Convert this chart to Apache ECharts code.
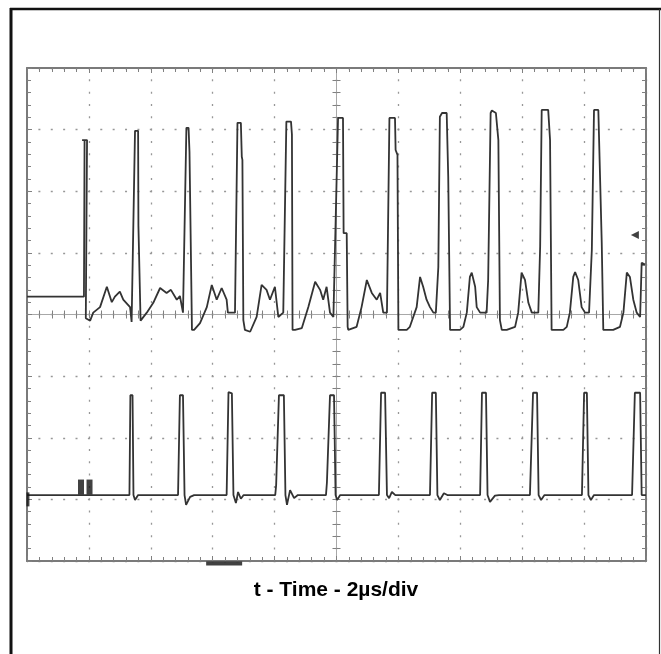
<!DOCTYPE html>
<html><head><meta charset="utf-8">
<script src="https://cdn.jsdelivr.net/npm/echarts@6/dist/echarts.min.js"></script>
<style>html,body{margin:0;padding:0;background:#fff}#c{width:661px;height:654px}</style>
</head><body><div id="c"></div>
<script>
// ---- data (time in µs, 2 µs/div; amplitude in screen divisions, 0 = bottom of screen) ----
const xLabel = 't - Time - 2µs/div';
const timeRange = [0, 20];
const timeStep = 2;
const voltRange = [0, 8];
const voltStep = 1;

// upper trace (channel 1)
const ch1 = [
  [0,4.29],[1.84,4.29],[1.86,6.83],[1.78,6.83],[1.94,6.83],[1.88,6.83],[1.90,3.94],[2.04,3.90],
  [2.14,4.03],[2.36,4.12],[2.58,4.45],[2.74,4.20],[2.84,4.29],[3.00,4.37],[3.11,4.24],[3.33,4.12],[3.38,3.88],
  [3.49,6.98],[3.59,6.98],[3.60,5.44],[3.65,5.44],[3.67,3.90],[3.72,3.88],[3.87,4.03],[4.08,4.19],
  [4.30,4.43],[4.51,4.35],[4.65,4.40],[4.84,4.24],[4.94,4.30],[5.04,4.03],[5.10,4.03],
  [5.15,7.03],[5.22,7.03],[5.25,6.64],[5.30,6.64],[5.33,3.75],[5.40,3.75],[5.59,3.86],[5.81,4.12],
  [5.97,4.48],[6.13,4.24],[6.29,4.43],[6.45,4.24],[6.49,4.03],[6.72,4.03],
  [6.80,7.11],[6.91,7.11],[6.94,6.56],[6.96,6.51],[6.99,3.91],[7.04,3.75],[7.21,3.72],[7.42,3.96],
  [7.58,4.48],[7.74,4.40],[7.85,4.24],[8.01,4.45],[8.12,3.96],[8.28,4.03],
  [8.38,7.13],[8.53,7.13],[8.56,6.92],[8.58,3.75],[8.66,3.75],[8.88,3.78],[9.09,4.12],[9.31,4.53],
  [9.47,4.40],[9.57,4.24],[9.68,4.45],[9.79,4.03],[9.90,3.96],
  [10.05,7.19],[10.21,7.19],[10.23,5.32],[10.33,5.32],[10.36,3.80],[10.38,3.75],[10.65,3.80],[10.81,4.12],
  [10.98,4.56],[11.14,4.35],[11.30,4.24],[11.41,4.35],[11.51,4.03],[11.63,4.03],
  [11.71,7.19],[11.89,7.19],[11.91,6.67],[11.97,6.59],[12.00,3.75],[12.27,3.75],[12.37,3.80],[12.59,4.12],
  [12.70,4.61],[12.80,4.45],[12.91,4.24],[13.02,4.12],[13.13,4.03],[13.21,4.03],
  [13.29,4.77],[13.34,7.21],[13.41,7.27],[13.56,7.27],[13.61,6.23],[13.65,6.23],[13.67,3.75],[13.99,3.75],
  [14.10,3.80],[14.21,4.03],[14.31,4.61],[14.37,4.68],[14.48,4.45],[14.53,4.12],[14.64,4.03],[14.85,4.03],
  [14.90,4.56],[14.98,7.27],[15.02,7.31],[15.15,7.27],[15.23,6.83],[15.28,3.91],[15.34,3.75],[15.50,3.75],
  [15.77,3.80],[15.87,4.03],[15.98,4.68],[16.09,4.56],[16.20,4.19],[16.31,4.03],[16.52,4.03],
  [16.58,5.10],[16.63,7.32],[16.84,7.32],[16.90,6.83],[16.95,3.75],[17.33,3.75],[17.44,3.80],[17.54,4.03],
  [17.65,4.61],[17.71,4.69],[17.81,4.56],[17.92,4.12],[18.03,4.03],[18.16,4.03],
  [18.25,5.05],[18.32,7.32],[18.38,7.35],[18.46,7.32],[18.57,5.16],[18.59,5.16],[18.62,3.75],[18.94,3.75],
  [19.16,3.80],[19.27,4.03],[19.38,4.68],[19.48,4.61],[19.59,4.24],[19.70,4.03],[19.81,3.96],[19.86,4.84],[19.97,4.81]
];

// lower trace (channel 2)
const ch2 = [
  [0,1.07],
  [3.31,1.07],[3.34,2.69],[3.41,2.69],[3.44,1.07],[3.49,0.99],[3.59,1.07],
  [4.88,1.07],[4.94,2.69],[5.04,2.69],[5.09,1.07],[5.14,0.91],[5.27,1.04],[5.40,1.07],
  [6.45,1.07],[6.51,2.74],[6.62,2.72],[6.67,1.07],[6.75,0.94],[6.82,1.12],[6.91,1.01],[7.00,1.07],
  [8.02,1.07],[8.05,1.23],[8.09,1.25],[8.14,2.69],[8.30,2.69],[8.35,1.07],[8.40,0.91],[8.50,1.15],[8.63,1.02],[8.75,1.07],
  [9.66,1.07],[9.69,1.27],[9.74,1.29],[9.79,2.69],[9.92,2.69],[9.97,1.07],[10.02,0.99],[10.12,1.07],
  [11.37,1.07],[11.44,2.73],[11.57,2.73],[11.63,1.07],[11.70,1.02],[11.79,1.12],[11.90,1.07],
  [13.02,1.07],[13.09,2.73],[13.21,2.73],[13.26,1.07],[13.34,0.99],[13.47,1.10],[13.58,1.07],
  [14.64,1.07],[14.70,2.73],[14.83,2.73],[14.88,1.07],[14.96,0.96],[15.12,1.06],[15.25,1.07],
  [16.25,1.07],[16.35,2.73],[16.48,2.73],[16.53,1.07],[16.61,0.99],[16.72,1.07],
  [17.93,1.07],[18.00,2.73],[18.09,2.73],[18.14,1.07],[18.22,0.99],[18.32,1.07],
  [19.55,1.07],[19.64,2.73],[19.81,2.73],[19.86,1.07],[20,1.07]
];

// scope screen markers
const ch1LevelMarker = [[19.64, 5.29]];
const ch2RefMarker = [[1.745, 1.20], [2.02, 1.20]];
const ch2EdgeMarker = [[0.03, 1.0]];
const trigPosMarker = [[6.37, -0.04]];

// ---- chart ----
const gridGray = '#979797';
const borderGray = '#7a7a7a';
const tickGray = '#808080';

function baseX(extra) {
  return Object.assign({
    type: 'value', min: timeRange[0], max: timeRange[1], interval: timeStep,
    axisLabel: { show: false }, splitLine: { show: false },
    axisLine: { show: false, onZero: false }, axisTick: { show: false }, minorTick: { show: false }
  }, extra);
}
function baseY(extra) {
  return Object.assign({
    type: 'value', min: voltRange[0], max: voltRange[1], interval: voltStep,
    axisLabel: { show: false }, splitLine: { show: false },
    axisLine: { show: false, onZero: false }, axisTick: { show: false }, minorTick: { show: false }
  }, extra);
}
const frameLine = { show: true, onZero: false, lineStyle: { color: borderGray, width: 2 } };
const centerLine = { show: true, onZero: false, lineStyle: { color: '#a8a8a8', width: 1 } };
const tickIn = (len) => ({ show: true, inside: true, length: len, lineStyle: { color: tickGray, width: 1 } });
const tickOut = (len) => ({ show: true, inside: false, length: len, lineStyle: { color: tickGray, width: 1 } });
const minor = (len) => ({ show: true, splitNumber: 5, length: len, lineStyle: { color: tickGray, width: 1 } });

const chart = echarts.init(document.getElementById('c'), null, { renderer: 'canvas' });
chart.setOption({
  animation: false,
  backgroundColor: '#ffffff',
  grid: { left: 27, top: 68, width: 619, height: 493, show: false, containLabel: false, outerBoundsMode: 'none' },
  xAxis: [
    baseX({ position: 'bottom', axisLine: frameLine, axisTick: tickIn(5), minorTick: minor(4),
      splitLine: { show: true, lineStyle: { color: gridGray, width: 1.3, type: [2, 10.32], dashOffset: 1 } } }),
    baseX({ position: 'top', axisLine: frameLine, axisTick: tickIn(5), minorTick: minor(4) }),
    baseX({ position: 'bottom', offset: -246.5, axisLine: centerLine, axisTick: tickIn(4), minorTick: minor(4) }),
    baseX({ position: 'bottom', offset: -246.5, axisTick: tickOut(4), minorTick: minor(4) })
  ],
  yAxis: [
    baseY({ position: 'left', axisLine: frameLine, axisTick: tickIn(5), minorTick: minor(4),
      splitLine: { show: true, lineStyle: { color: gridGray, width: 1.3, type: [2, 10.38], dashOffset: 1 } } }),
    baseY({ position: 'right', axisLine: frameLine, axisTick: tickIn(5), minorTick: minor(4) }),
    baseY({ position: 'left', offset: -309.5, axisLine: centerLine, axisTick: tickIn(4), minorTick: minor(4) }),
    baseY({ position: 'left', offset: -309.5, axisTick: tickOut(4), minorTick: minor(4) })
  ],
  series: [
    { type: 'line', name: 'ch1', data: ch1, xAxisIndex: 0, yAxisIndex: 0, symbol: 'none', showSymbol: false,
      lineStyle: { color: '#333333', width: 1.8 }, z: 5 },
    { type: 'line', name: 'ch2', data: ch2, xAxisIndex: 0, yAxisIndex: 0, symbol: 'none', showSymbol: false,
      lineStyle: { color: '#333333', width: 1.8 }, z: 5 },
    { type: 'scatter', data: ch1LevelMarker, symbol: 'triangle', symbolRotate: 90, symbolSize: [8, 8],
      itemStyle: { color: '#111' }, clip: false, z: 6 },
    { type: 'scatter', data: ch2RefMarker, symbol: 'rect', symbolSize: [6, 15],
      itemStyle: { color: '#111' }, clip: false, z: 6 },
    { type: 'scatter', data: ch2EdgeMarker, symbol: 'rect', symbolSize: [3, 14],
      itemStyle: { color: '#111' }, clip: false, z: 6 },
    { type: 'scatter', data: trigPosMarker, symbol: 'rect', symbolSize: [36, 4],
      itemStyle: { color: '#111' }, clip: false, z: 6 }
  ],
  graphic: [
    { type: 'line', shape: { x1: 11, y1: 8, x2: 11, y2: 654 }, style: { stroke: '#111', lineWidth: 3 } },
    { type: 'line', shape: { x1: 10, y1: 9, x2: 661, y2: 9 }, style: { stroke: '#111', lineWidth: 2.5 } },
    { type: 'line', shape: { x1: 659.5, y1: 9, x2: 659.5, y2: 654 }, style: { stroke: '#333', lineWidth: 1.2 } },
    { type: 'text', x: 336, y: 590, style: { text: xLabel, fill: '#000',
      font: 'bold 21px "Liberation Sans", Arial, sans-serif', align: 'center', verticalAlign: 'middle' } }
  ]
});
</script>
</body></html>
